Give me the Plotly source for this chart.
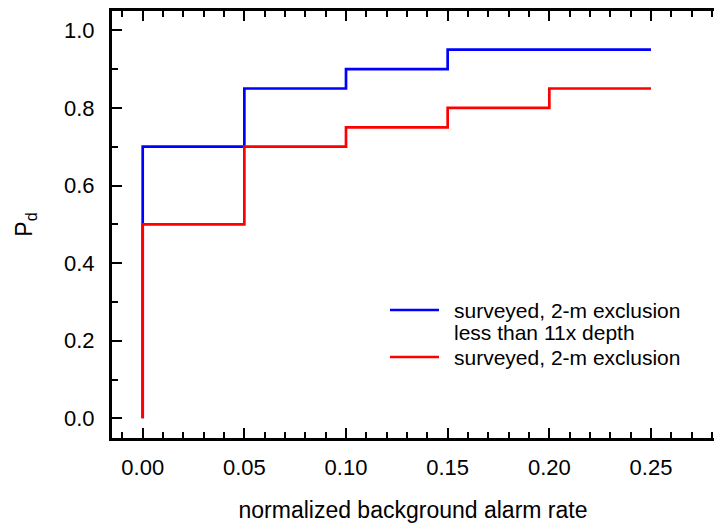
import plotly.graph_objects as go

# Data
blue_x = [0.0, 0.0, 0.05, 0.10, 0.15, 0.25]
blue_y = [0.0, 0.70, 0.85, 0.90, 0.95, 0.95]
red_x = [0.0, 0.0, 0.05, 0.10, 0.15, 0.20, 0.25]
red_y = [0.0, 0.50, 0.70, 0.75, 0.80, 0.85, 0.85]
blue_name = ["surveyed, 2-m exclusion", "less than 11x depth"]
red_name = ["surveyed, 2-m exclusion"]
x_title = "normalized background alarm rate"
y_title = "P<sub>d</sub>"

FONT = "Liberation Sans, Arial, sans-serif"
BLUE = "#0000ff"
RED = "#ff0000"

fig = go.Figure()
fig.add_trace(go.Scatter(x=blue_x, y=blue_y, mode="lines", line=dict(color=BLUE, width=2.7, shape="hv"),
                         name=" ".join(blue_name), showlegend=False))
fig.add_trace(go.Scatter(x=red_x, y=red_y, mode="lines", line=dict(color=RED, width=2.7, shape="hv"),
                         name=" ".join(red_name), showlegend=False))

# custom legend (paper coordinates)
L, B, W, H = 112, 438, 602, 427
def px(x): return (x - L) / W
def py(y): return (B - y) / H

legend_rows = [(310, BLUE, blue_name[0]), (332, None, blue_name[1]), (357, RED, red_name[0])]
for yy, col, txt in legend_rows:
    if col:
        fig.add_shape(type="line", xref="paper", yref="paper", x0=px(390), x1=px(439), y0=py(yy), y1=py(yy),
                      line=dict(color=col, width=2.7))
    fig.add_annotation(xref="paper", yref="paper", x=px(452), y=py(yy), xanchor="left", yanchor="middle",
                       text=txt, showarrow=False, font=dict(size=21, family=FONT, color="black"))

fig.update_layout(
    width=715, height=523,
    margin=dict(l=112, r=1, t=11, b=85, autoexpand=False),
    paper_bgcolor="white", plot_bgcolor="white",
    font=dict(family=FONT, size=22, color="black"),
    showlegend=False,
    xaxis=dict(range=[-0.0151, 0.281], tick0=0, dtick=0.05, tickformat=".2f", automargin=False,
               tickfont=dict(size=22, family=FONT, color="black"),
               showgrid=False, zeroline=False, showline=True, linecolor="black", linewidth=3,
               mirror="ticks", ticks="inside", ticklen=10, tickwidth=2, tickcolor="black",
               minor=dict(dtick=0.01, ticks="inside", ticklen=6, tickwidth=2, tickcolor="black", showgrid=False),
               ticklabelstandoff=8,
               title=dict(text=x_title, font=dict(size=23, family=FONT, color="black"), standoff=24)),
    yaxis=dict(range=[-0.0507, 1.0497], tick0=0, dtick=0.2, tickformat=".1f", automargin=False,
               tickfont=dict(size=22, family=FONT, color="black"),
               showgrid=False, zeroline=False, showline=True, linecolor="black", linewidth=3,
               mirror=False, ticks="inside", ticklen=10, tickwidth=2, tickcolor="black",
               minor=dict(dtick=0.1, ticks="inside", ticklen=6, tickwidth=2, tickcolor="black", showgrid=False),
               ticklabelstandoff=10,
               title=dict(text=y_title, font=dict(size=23, family=FONT, color="black"), standoff=25)),
)

fig.write_html("out.html", config={"displayModeBar": False},
               post_script="document.body.style.margin='0';document.body.style.padding='0';")
